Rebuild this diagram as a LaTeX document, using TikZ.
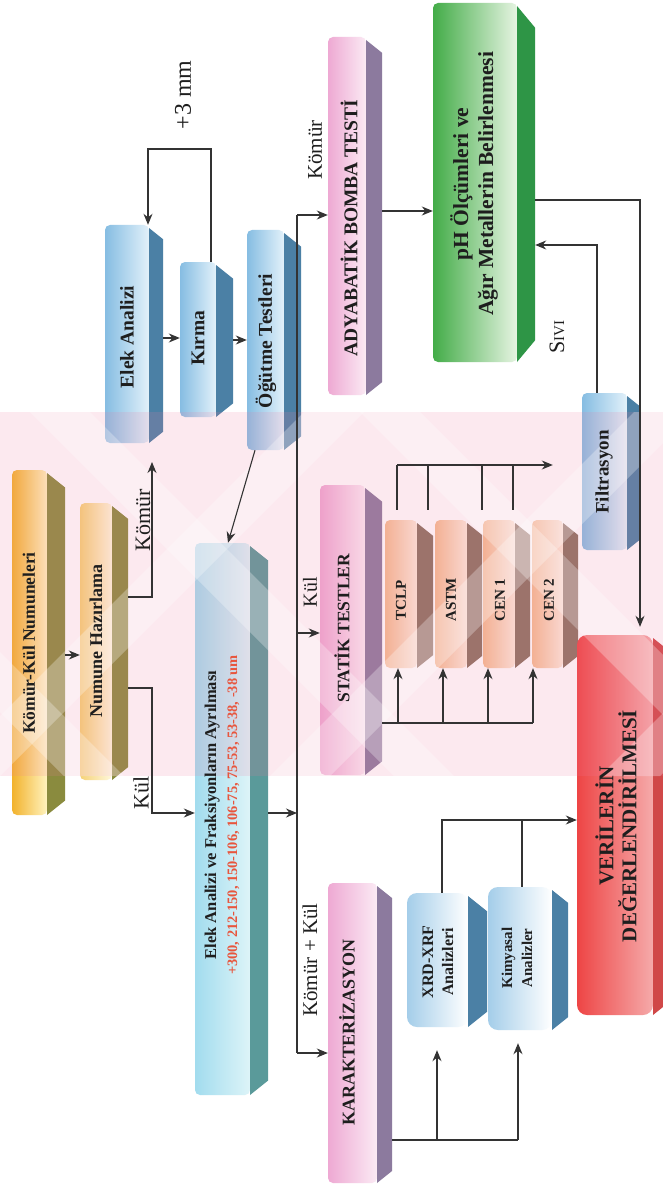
\documentclass[tikz,border=0pt]{standalone}
\usepackage{fontspec}
\setmainfont{Liberation Serif}
\usetikzlibrary{fit,arrows.meta,calc}
\definecolor{linec}{HTML}{333333}
\definecolor{txt}{HTML}{1E1E1E}
\definecolor{kkL}{HTML}{F2B22C}
\definecolor{kkR}{HTML}{FFF3BE}
\definecolor{olv}{HTML}{8A8B3E}
\definecolor{nhL}{HTML}{F5D277}
\definecolor{nhR}{HTML}{FFF8DC}
\definecolor{blL}{HTML}{86BDE2}
\definecolor{blR}{HTML}{E2F1FA}
\definecolor{blS}{HTML}{4B80A5}
\definecolor{pkL}{HTML}{EEA9D3}
\definecolor{pkR}{HTML}{FBEAF4}
\definecolor{pkS}{HTML}{8C7A9E}
\definecolor{grL}{HTML}{43AC48}
\definecolor{grR}{HTML}{E6F4E2}
\definecolor{grS}{HTML}{2E9546}
\definecolor{rdL}{HTML}{EE4545}
\definecolor{rdR}{HTML}{F5AAAA}
\definecolor{rdS}{HTML}{D04848}
\definecolor{peL}{HTML}{F4BC92}
\definecolor{peR}{HTML}{FCE9DA}
\definecolor{peS}{HTML}{8C7262}
\definecolor{cyL}{HTML}{A2DCEE}
\definecolor{cyR}{HTML}{DDF4F8}
\definecolor{cyS}{HTML}{5A9A9A}
\definecolor{redtxt}{HTML}{E8553D}
\definecolor{wmpink}{HTML}{F07AA0}
\newcommand{\fsz}[2]{\fontsize{#1pt}{#2pt}\selectfont}
\def\cham{0.8}
\def\rc{5}
\newcommand{\slab}[9]{%
  \path[left color=#7, right color=#8, rounded corners=\rc pt] (#2,#3) rectangle (#4,#5);
  \fill[#9] (#4,#3+3) -- (#4+#6,#3+3+\cham*#6) -- (#4+#6,#5-\cham*#6) -- (#4,#5) -- cycle;
  \node[fit={(#2,#3)(#4+#6,#5)}, inner sep=0pt] (#1) {};}
\begin{document}
\begin{tikzpicture}[x=1pt,y=-1pt,
  arr/.style={-{Stealth[length=11pt,width=9pt]}, line width=1.1pt, draw=linec},
  ln/.style={line width=1.1pt, draw=linec},
  bt/.style={rotate=90, inner sep=0pt, align=center, text=txt},
  rt/.style={rotate=90, inner sep=0pt, text=txt}]
\useasboundingbox (0,0) rectangle (663,1190);
\fill[white] (0,0) rectangle (663,1190);
% boxes
\slab{kk}{12}{470}{47}{815}{18}{kkL}{kkR}{olv}
\slab{nh}{80}{503}{112}{780}{16}{nhL}{nhR}{olv}
\slab{ea}{105}{225}{149}{443}{14}{blL}{blR}{blS}
\slab{kr}{180}{262}{216}{417}{17}{blL}{blR}{blS}
\slab{og}{247}{230}{284}{450}{17}{blL}{blR}{blS}
\slab{ad}{328}{37}{366}{395}{16}{pkL}{pkR}{pkS}
\def\cham{1.2}
\slab{ph}{433}{3}{517}{362}{18}{grL}{grR}{grS}
\def\cham{0.8}
\slab{fi}{582}{393}{627}{550}{13}{blL}{blR}{blS}
\slab{st}{320}{485}{365}{775}{17}{pkL}{pkR}{pkS}
\slab{tc}{385}{520}{417}{668}{16}{peL}{peR}{peS}
\slab{as}{435}{520}{467}{668}{15}{peL}{peR}{peS}
\slab{c1}{483}{520}{515}{668}{15}{peL}{peR}{peS}
\slab{c2}{532}{520}{563}{668}{15}{peL}{peR}{peS}
\slab{ka}{328}{883}{377}{1183}{15}{pkL}{pkR}{pkS}
\slab{ef}{195}{543}{250}{1095}{18}{cyL}{cyR}{cyS}
\def\rc{10}
\slab{ve}{577}{635}{653}{1015}{12}{rdL}{rdR}{rdS}
\slab{xr}{407}{893}{468}{1027}{19}{blL!75}{white}{blS}
\slab{ki}{488}{887}{552}{1030}{16}{blL!75}{white}{blS}
% watermark band
\begin{scope}
\clip (0,412) rectangle (663,776);
\fill[wmpink, opacity=0.16] (0,412) rectangle (663,776);
\foreach \s in {-300,30,360} \fill[white, opacity=0.28] (\s,412) -- ++(60,0) -- ++(364,364) -- ++(-60,0) -- cycle;
\foreach \s in {-60,270,600} \fill[white, opacity=0.28] (\s,776) -- ++(60,0) -- ++(364,-364) -- ++(-60,0) -- cycle;
\end{scope}
% box texts
\node[bt, font=\fsz{17.5}{20}\bfseries] (tkk) at (29,643) {Kömür-Kül Numuneleri};
\node[bt, font=\fsz{18}{20}\bfseries] (tnh) at (96,641) {Numune Hazırlama};
\node[bt, font=\fsz{19.5}{22}\bfseries] (tea) at (127,337) {Elek Analizi};
\node[bt, font=\fsz{19.5}{22}\bfseries] (tkr) at (198,338) {Kırma};
\node[bt, font=\fsz{19.5}{22}\bfseries] (tog) at (266,341) {Öğütme Testleri};
\node[bt, font=\fsz{19.5}{22}\bfseries] (tad) at (349,228) {ADYABATİK BOMBA TESTİ};
\node[bt, font=\fsz{21.5}{25}\bfseries] (tph) at (474,184) {pH Ölçümleri ve\\Ağır Metallerin Belirlenmesi};
\node[bt, font=\fsz{19}{22}\bfseries] (tfi) at (604,472) {Filtrasyon};
\node[bt, font=\fsz{17.5}{20}\bfseries] (tst) at (342,628) {STATİK TESTLER};
\node[bt, font=\fsz{15}{18}\bfseries] (ttc) at (401,600) {TCLP};
\node[bt, font=\fsz{15}{18}\bfseries] (tas) at (451,600) {ASTM};
\node[bt, font=\fsz{15}{18}\bfseries] (tc1) at (500,600) {CEN 1};
\node[bt, font=\fsz{15}{18}\bfseries] (tc2) at (549,600) {CEN 2};
\node[bt, font=\fsz{21}{23}\bfseries] (tve) at (616,826) {VERİLERİN\\DEĞERLENDİRİLMESİ};
\node[bt, font=\fsz{18}{20}\bfseries] (tka) at (347,1032) {KARAKTERİZASYON};
\node[bt, font=\fsz{16}{20}\bfseries] (txr) at (438,962) {XRD-XRF\\Analizleri};
\node[bt, font=\fsz{15}{20}\bfseries] (tki) at (517,958) {Kimyasal\\Analizler};
\node[bt, font=\fsz{16.5}{21}\bfseries] (tef) at (222,815) {Elek Analizi ve Fraksiyonların Ayrılması\\{\color{redtxt}\fsz{14.4}{21}+300, 212-150, 150-106, 106-75, 75-53, 53-38, -38 um}};
% connectors
\coordinate (kmrtip) at (152,462);
\coordinate (btop) at (297,215);
\coordinate (bbot) at (297,1053);
\coordinate (bjoin) at (297,813);
\draw[arr] (kk.east |- 0,655) -- (nh.west |- 0,655);
\draw[arr] (nh.east |- 0,597) -| (kmrtip);
\draw[arr] (nh.east |- 0,688) -- (152,688) |- (ef.west |- 0,813);
\draw[arr] (ea.east |- 0,338) -- (kr.west |- 0,338);
\draw[arr] (kr.east |- 0,340) -- (og.west |- 0,340);
\draw[arr] (kr.north -| 211,0) |- (148,149) -- (ea.north -| 148,0);
\draw[arr] (og.south -| 255,0) -- (ef.north -| 228,0);
\draw[arr] (ef.east |- bjoin) -- (bjoin);
\draw[ln] (btop) -- (bbot);
\draw[arr] (btop) -- (ad.west |- btop);
\draw[arr] (297,633) -- (st.west |- 0,633);
\draw[arr] (bbot) -- (ka.west |- bbot);
\draw[arr] (ad.east |- 0,211) -- (ph.west |- 0,211);
\draw[arr] (ph.east |- 0,200) -| ($(ve.north -| 640,0)+(0,-8)$);
\draw[arr] (fi.north -| 597,0) |- (ph.east |- 0,245);
\draw[ln] (st.east |- 0,723) -- (533,723);
\foreach \x/\n in {398/tc,443/as,488/c1,533/c2} \draw[arr] (\x,723) -- (\n.south -| \x,0);
\foreach \x/\n in {397/tc,428/as,482/c1,513/c2} \draw[ln] ($(\n.north -| \x,0)+(0,-10)$) -- (\x,465);
\draw[arr] (397,465) -- ($(fi.west |- 0,465)+(-29,0)$);
\draw[ln] (ka.east |- 0,1140) -- (518,1140);
\draw[arr] (437,1140) -- ($(xr.south -| 437,0)+(0,23)$);
\draw[arr] (518,1140) -- ($(ki.south -| 518,0)+(0,13)$);
\draw[arr] (xr.north -| 442,0) |- (ve.west |- 0,820);
\draw[ln] (ki.north -| 522,0) -- (522,820);
% labels
\node[rt, font=\fsz{22}{24}] (lk1) at (143,520) {Kömür};
\node[rt, font=\fsz{22}{24}] (lkul1) at (141,793) {Kül};
\node[rt, font=\fsz{24}{26}] (l3mm) at (183,95) {+3 mm};
\node[rt, font=\fsz{21}{24}] (lk2) at (315,150) {Kömür};
\node[rt, font=\fsz{20}{24}] (lkul2) at (310,592) {Kül};
\node[rt, font=\fsz{21}{24}] (lkk) at (310,960) {Kömür + Kül};
\node[rt] (lsivi) at (557,337) {{\fsz{22}{24}S}{\fsz{15}{24}IVI}};
\end{tikzpicture}
\end{document}
